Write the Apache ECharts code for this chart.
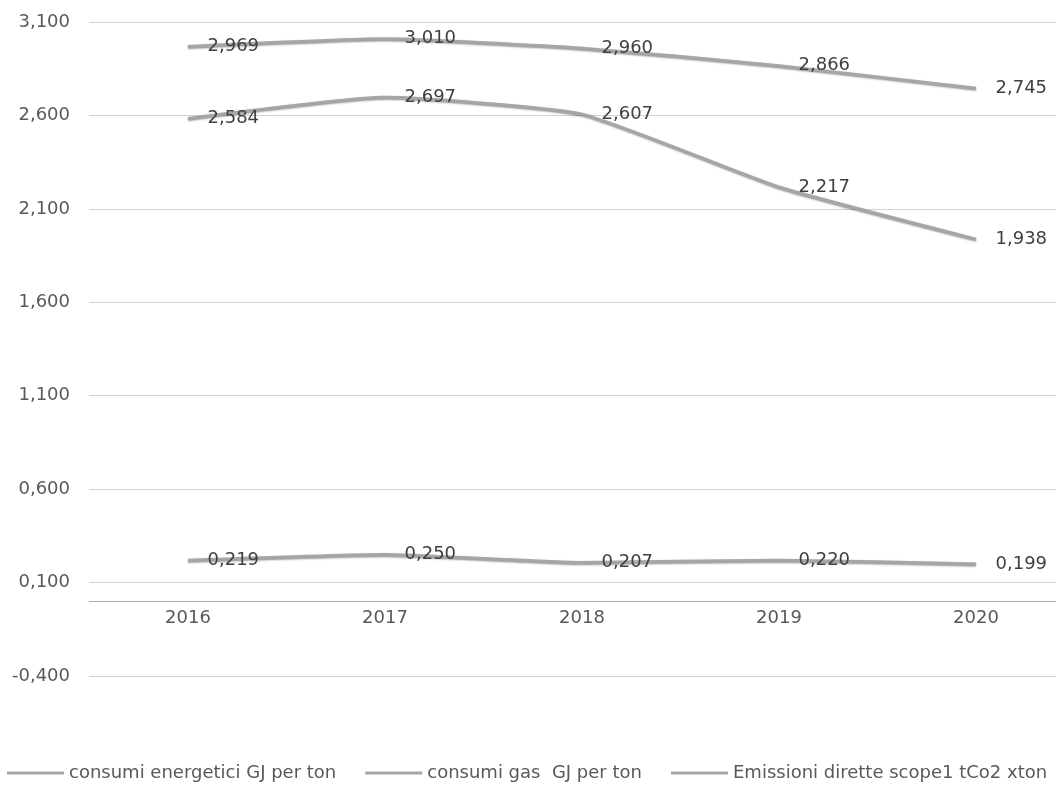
<!DOCTYPE html>
<html>
<head>
<meta charset="utf-8">
<script src="https://cdn.jsdelivr.net/npm/echarts@6/dist/echarts.min.js"></script>
<style>
  html, body { margin: 0; padding: 0; background: #fff; }
  #chart { width: 1056px; height: 785px; }
</style>
</head>
<body>
<div id="chart"></div>
<script>
const years = ['2016', '2017', '2018', '2019', '2020']
const consumiEnergetici = [2.969, 3.010, 2.960, 2.866, 2.745]
const consumiGas = [2.584, 2.697, 2.607, 2.217, 1.938]
const emissioniScope1 = [0.219, 0.250, 0.207, 0.220, 0.199]

const seriesNames = [
  'consumi energetici GJ per ton',
  'consumi gas  GJ per ton',
  'Emissioni dirette scope1 tCo2 xton',
]

// Italian style number: comma as decimal separator, 3 decimals
const fmt = (v) => Number(v).toFixed(3).replace('.', ',')

const FONT = 'DejaVu Sans'
const FS = 18

// plot area: 3.5 units over 654px, x axis sits on the zero line
const GRID_TOP = 22
const GRID_H = 654
const ZERO_OFFSET = -(0.4 / 3.5) * GRID_H

const makeSeries = (name, data) => ({
  name,
  type: 'line',
  data,
  smooth: 0.15,
  symbol: 'circle',
  symbolSize: 1,
  itemStyle: { color: 'transparent' },
  lineStyle: {
    color: '#a6a6a6',
    width: 3,
    shadowColor: 'rgba(0,0,0,0.45)',
    shadowBlur: 2,
    shadowOffsetY: 1,
  },
  label: {
    show: true,
    position: 'right',
    distance: 19,
    formatter: (p) => fmt(p.value),
    fontFamily: FONT,
    fontSize: FS,
    color: '#404040',
  },
})

const chart = echarts.init(document.getElementById('chart'))
chart.setOption({
  animation: false,
  backgroundColor: '#ffffff',
  textStyle: { fontFamily: FONT },
  grid: {
    left: 89.5,
    width: 985,
    top: GRID_TOP,
    height: GRID_H,
    outerBoundsMode: 'none',
    containLabel: false,
  },
  legend: {
    top: 759,
    left: 2,
    width: 1054,
    itemWidth: 57,
    itemHeight: 3,
    itemGap: 29,
    icon: 'rect',
    textStyle: { fontFamily: FONT, fontSize: FS, color: '#595959' },
    data: seriesNames.map((n) => ({ name: n, itemStyle: { color: '#a6a6a6' } })),
  },
  xAxis: {
    type: 'category',
    data: years,
    boundaryGap: true,
    offset: ZERO_OFFSET,
    axisLine: { onZero: false, lineStyle: { color: '#a6a6a6', type: 'dotted', width: 1 } },
    axisTick: { show: false },
    axisLabel: { margin: 8, fontFamily: FONT, fontSize: FS, color: '#595959' },
  },
  yAxis: {
    type: 'value',
    min: -0.4,
    max: 3.1,
    interval: 0.5,
    axisLine: { show: false },
    axisTick: { show: false },
    axisLabel: {
      margin: 19.5,
      formatter: (v) => fmt(v),
      fontFamily: FONT,
      fontSize: FS,
      color: '#595959',
    },
    splitLine: { lineStyle: { color: '#a6a6a6', type: 'dotted', width: 1 } },
  },
  series: [
    makeSeries(seriesNames[0], consumiEnergetici),
    makeSeries(seriesNames[1], consumiGas),
    makeSeries(seriesNames[2], emissioniScope1),
  ],
})
</script>
</body>
</html>
